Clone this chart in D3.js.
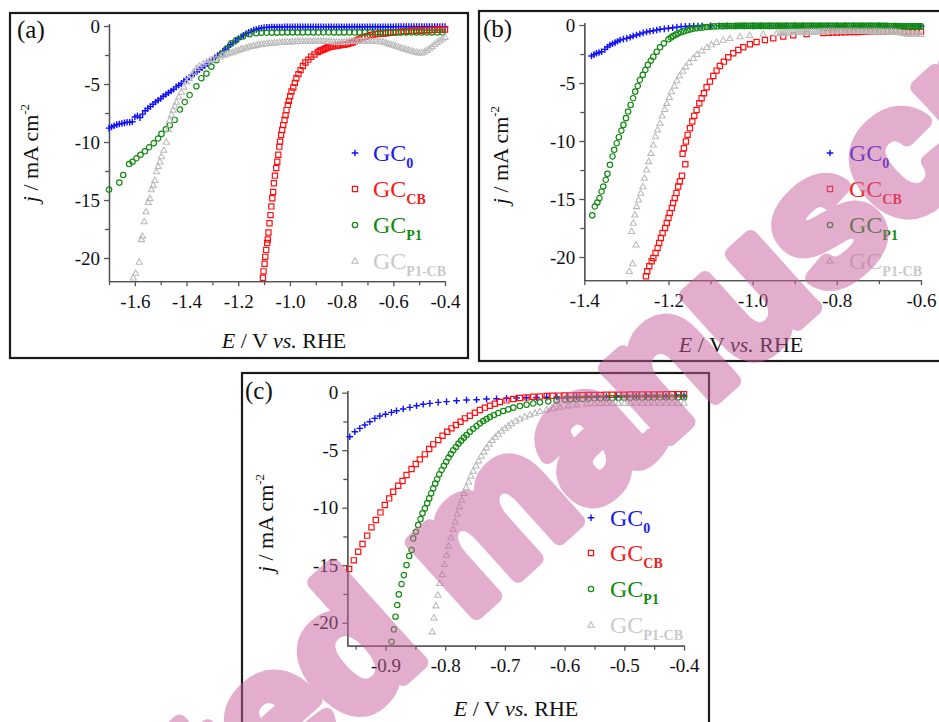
<!DOCTYPE html>
<html>
<head>
<meta charset="utf-8">
<script src="https://cdn.jsdelivr.net/npm/d3@7"></script>
<style>
  body { margin: 0; background: #fff; }
  svg { display: block; }
  svg text { font-family: "Liberation Serif", "DejaVu Serif", serif; }
  svg .wm text { font-family: "Liberation Sans", "DejaVu Sans", sans-serif; }
</style>
</head>
<body>
<script>
// legend names (subscripts) in drawing order
var seriesNames = ["0", "CB", "P1", "P1-CB"];

// ticks
var yMajor = [0, -5, -10, -15, -20];
var yMinor = [-2.5, -7.5, -12.5, -17.5];
var aXMajor = [-1.6, -1.4, -1.2, -1.0, -0.8, -0.6, -0.4];
var aXMinor = [-1.7, -1.5, -1.3, -1.1, -0.9, -0.7, -0.5];
var bXMajor = [-1.4, -1.2, -1.0, -0.8, -0.6];
var bXMinor = [-1.3, -1.1, -0.9, -0.7];
var cXMajor = [-0.9, -0.8, -0.7, -0.6, -0.5, -0.4];
var cXMinor = [-0.95, -0.85, -0.75, -0.65, -0.55, -0.45];

// ---- panel (a): [E / V, j / mA cm-2]
var a_GC0 = [[-1.70,-8.8],[-1.69,-8.7],[-1.68,-8.6],[-1.67,-8.5],[-1.66,-8.45],[-1.65,-8.4],[-1.64,-8.35],[-1.63,-8.3],[-1.62,-8.3],[-1.61,-8.25],
  [-1.60,-7.85],[-1.59,-7.75],[-1.58,-7.9],[-1.57,-7.6],[-1.56,-7.3],[-1.55,-7.1],[-1.54,-6.95],[-1.53,-6.75],[-1.52,-6.55],[-1.51,-6.4],
  [-1.50,-6.25],[-1.49,-6.05],[-1.48,-5.9],[-1.47,-5.75],[-1.46,-5.6],[-1.45,-5.45],[-1.44,-5.25],[-1.43,-5.1],[-1.42,-4.95],[-1.41,-4.75],
  [-1.40,-4.6],[-1.39,-4.45],[-1.38,-4.25],[-1.37,-4.1],[-1.36,-3.95],[-1.35,-3.75],[-1.34,-3.6],[-1.33,-3.4],[-1.32,-3.25],[-1.31,-3.1],
  [-1.30,-2.9],[-1.29,-2.75],[-1.28,-2.55],[-1.27,-2.4],[-1.26,-2.2],[-1.25,-2.0],[-1.24,-1.8],[-1.23,-1.6],[-1.22,-1.45],[-1.21,-1.3],
  [-1.20,-1.1],[-1.19,-0.95],[-1.18,-0.8],[-1.17,-0.65],[-1.16,-0.55],[-1.15,-0.45],[-1.14,-0.35],[-1.13,-0.3],[-1.12,-0.22],[-1.11,-0.18],
  [-1.10,-0.14],[-1.09,-0.12],[-1.08,-0.1],[-1.07,-0.08],[-1.06,-0.08],[-1.05,-0.08],[-1.04,-0.08],[-1.03,-0.08],[-1.02,-0.07],[-1.01,-0.07],
  [-1.00,-0.07],[-0.99,-0.07],[-0.98,-0.07],[-0.97,-0.07],[-0.96,-0.07],[-0.95,-0.07],[-0.94,-0.07],[-0.93,-0.07],[-0.92,-0.07],[-0.91,-0.07],
  [-0.90,-0.07],[-0.89,-0.07],[-0.88,-0.07],[-0.87,-0.06],[-0.86,-0.06],[-0.85,-0.06],[-0.84,-0.06],[-0.83,-0.06],[-0.82,-0.06],[-0.81,-0.06],
  [-0.80,-0.06],[-0.79,-0.06],[-0.78,-0.06],[-0.77,-0.06],[-0.76,-0.06],[-0.75,-0.06],[-0.74,-0.06],[-0.73,-0.06],[-0.72,-0.06],[-0.71,-0.06],
  [-0.70,-0.06],[-0.69,-0.06],[-0.68,-0.06],[-0.67,-0.06],[-0.66,-0.06],[-0.65,-0.06],[-0.64,-0.06],[-0.63,-0.06],[-0.62,-0.06],[-0.61,-0.06],
  [-0.60,-0.06],[-0.59,-0.05],[-0.58,-0.05],[-0.57,-0.05],[-0.56,-0.05],[-0.55,-0.05],[-0.54,-0.05],[-0.53,-0.05],[-0.52,-0.05],[-0.51,-0.05],
  [-0.50,-0.05],[-0.49,-0.05],[-0.48,-0.05],[-0.47,-0.05],[-0.46,-0.05],[-0.45,-0.05],[-0.44,-0.05],[-0.43,-0.05],[-0.42,-0.05],[-0.41,-0.05],[-0.40,-0.05]];

var a_GCCB = [[-1.1045,-21.7],[-1.102,-21.15],[-1.098,-20.5],[-1.0955,-19.9],[-1.092,-19.3],[-1.088,-18.7],[-1.0855,-18.4],[-1.083,-17.8],
  [-1.079,-17.0],[-1.075,-16.3],[-1.072,-15.55],[-1.068,-14.85],[-1.065,-14.3],[-1.062,-13.55],[-1.058,-12.9],[-1.053,-12.25],[-1.049,-11.7],
  [-1.045,-11.1],[-1.041,-10.4],[-1.038,-9.97],[-1.034,-9.4],[-1.03,-8.97],[-1.026,-8.54],[-1.021,-8.1],[-1.017,-7.7],[-1.013,-7.25],
  [-1.008,-6.8],[-1.004,-6.45],[-0.999,-6.05],[-0.994,-5.65],[-0.987,-5.3],[-0.981,-4.9],[-0.975,-4.5],[-0.967,-4.15],[-0.959,-3.8],
  [-0.95,-3.45],[-0.94,-3.15],[-0.929,-2.9],[-0.918,-2.65],[-0.905,-2.45],[-0.892,-2.25],[-0.885,-2.15],[-0.88,-2.1],[-0.873,-2.05],
  [-0.866,-1.98],[-0.86,-1.92],[-0.854,-1.85],[-0.847,-1.81],[-0.84,-1.78],[-0.834,-1.75],[-0.827,-1.72],[-0.82,-1.7],[-0.814,-1.68],
  [-0.808,-1.65],[-0.80,-1.63],[-0.79,-1.61],[-0.783,-1.58],[-0.775,-1.53],[-0.765,-1.47],[-0.757,-1.4],[-0.75,-1.32],[-0.74,-1.22],
  [-0.731,-1.1],[-0.72,-1.0],[-0.71,-0.93],[-0.70,-0.87],[-0.69,-0.8],[-0.68,-0.75],[-0.67,-0.71],[-0.66,-0.68],[-0.65,-0.66],[-0.64,-0.64],
  [-0.63,-0.62],[-0.62,-0.6],[-0.61,-0.57],[-0.60,-0.55],[-0.59,-0.53],[-0.58,-0.51],[-0.57,-0.49],[-0.56,-0.47],[-0.55,-0.45],[-0.54,-0.43],
  [-0.53,-0.42],[-0.52,-0.41],[-0.51,-0.4],[-0.50,-0.39],[-0.49,-0.38],[-0.48,-0.37],[-0.47,-0.36],[-0.46,-0.35],[-0.45,-0.34],[-0.44,-0.33],
  [-0.43,-0.32],[-0.42,-0.32],[-0.41,-0.31],[-0.40,-0.31]];

var a_GCP1 = [[-1.70,-14.1],[-1.66,-13.5],[-1.645,-12.85],[-1.622,-11.9],[-1.609,-11.7],[-1.594,-11.4],[-1.578,-11.1],[-1.561,-10.8],
  [-1.545,-10.45],[-1.527,-10.1],[-1.51,-9.7],[-1.497,-9.3],[-1.48,-8.9],[-1.465,-8.55],[-1.446,-8.1],[-1.426,-7.2],[-1.407,-6.55],
  [-1.388,-5.95],[-1.362,-5.2],[-1.343,-4.5],[-1.323,-4.1],[-1.304,-3.5],[-1.285,-2.95],[-1.265,-2.4],[-1.246,-1.95],[-1.227,-1.5],
  [-1.207,-1.2],[-1.182,-0.9],[-1.156,-0.7],[-1.13,-0.62],[-1.11,-0.59],[-1.09,-0.58],[-1.07,-0.57],[-1.05,-0.57],[-1.03,-0.56],[-1.01,-0.56],
  [-0.99,-0.56],[-0.97,-0.56],[-0.95,-0.55],[-0.93,-0.55],[-0.91,-0.55],[-0.89,-0.55],[-0.87,-0.55],[-0.85,-0.55],[-0.83,-0.55],[-0.81,-0.55],
  [-0.79,-0.55],[-0.77,-0.55],[-0.75,-0.55],[-0.73,-0.55],[-0.71,-0.55],[-0.69,-0.55],[-0.67,-0.55],[-0.65,-0.55],[-0.63,-0.55],[-0.61,-0.55],
  [-0.59,-0.55],[-0.57,-0.55],[-0.55,-0.55],[-0.53,-0.55],[-0.51,-0.55],[-0.49,-0.55],[-0.47,-0.55],[-0.45,-0.55],[-0.43,-0.55],[-0.41,-0.55]];

var a_GCP1CB = [[-1.606,-21.7],[-1.597,-21.3],[-1.583,-20.35],[-1.574,-18.4],[-1.571,-18.1],[-1.564,-16.85],[-1.557,-16.0],[-1.548,-15.2],
  [-1.542,-14.85],[-1.536,-14.1],[-1.529,-13.7],[-1.523,-13.3],[-1.516,-12.55],[-1.51,-12.1],[-1.503,-11.7],[-1.497,-11.25],[-1.488,-10.7],
  [-1.478,-10.0],[-1.471,-8.9],[-1.465,-8.1],[-1.458,-7.65],[-1.452,-7.25],[-1.445,-6.9],[-1.439,-6.55],[-1.43,-6.1],[-1.42,-5.7],[-1.41,-5.25],
  [-1.40,-4.8],[-1.39,-4.5],[-1.381,-4.25],[-1.372,-3.95],[-1.362,-3.65],[-1.35,-3.45],[-1.336,-3.25],[-1.323,-3.1],[-1.31,-2.95],[-1.30,-2.88],
  [-1.285,-2.8],[-1.27,-2.65],[-1.26,-2.5],[-1.25,-2.45],[-1.24,-2.38],[-1.23,-2.3],[-1.22,-2.25],[-1.21,-2.15],[-1.20,-2.08],[-1.19,-2.0],
  [-1.182,-1.95],[-1.17,-1.88],[-1.16,-1.8],[-1.15,-1.75],[-1.14,-1.7],[-1.13,-1.65],[-1.12,-1.6],[-1.11,-1.57],[-1.10,-1.54],[-1.09,-1.51],
  [-1.08,-1.48],[-1.07,-1.46],[-1.06,-1.44],[-1.05,-1.42],[-1.04,-1.4],[-1.03,-1.38],[-1.02,-1.37],[-1.01,-1.36],[-1.00,-1.35],[-0.99,-1.34],
  [-0.98,-1.33],[-0.97,-1.32],[-0.96,-1.31],[-0.95,-1.3],[-0.94,-1.3],[-0.93,-1.3],[-0.92,-1.3],[-0.91,-1.3],[-0.90,-1.3],[-0.89,-1.3],
  [-0.88,-1.3],[-0.87,-1.3],[-0.86,-1.31],[-0.85,-1.32],[-0.84,-1.34],[-0.83,-1.36],[-0.82,-1.38],[-0.81,-1.38],[-0.80,-1.37],[-0.79,-1.35],
  [-0.78,-1.33],[-0.77,-1.31],[-0.76,-1.3],[-0.75,-1.3],[-0.74,-1.29],[-0.73,-1.28],[-0.72,-1.28],[-0.71,-1.28],[-0.70,-1.28],[-0.69,-1.29],
  [-0.68,-1.3],[-0.67,-1.31],[-0.66,-1.32],[-0.65,-1.33],[-0.64,-1.35],[-0.63,-1.42],[-0.62,-1.5],[-0.61,-1.57],[-0.60,-1.64],[-0.59,-1.72],
  [-0.58,-1.8],[-0.57,-1.88],[-0.56,-1.95],[-0.55,-2.01],[-0.54,-2.07],[-0.53,-2.14],[-0.52,-2.2],[-0.51,-2.26],[-0.50,-2.3],[-0.49,-2.3],
  [-0.48,-2.22],[-0.47,-2.1],[-0.46,-1.95],[-0.45,-1.76],[-0.44,-1.58],[-0.43,-1.4],[-0.42,-1.25],[-0.41,-1.1],[-0.40,-0.97]];

// ---- panel (b)
var b_GC0 = [[-1.383,-2.67],[-1.377,-2.55],[-1.371,-2.44],[-1.365,-2.37],[-1.359,-2.3],[-1.351,-2.1],[-1.345,-1.9],[-1.339,-1.72],
  [-1.333,-1.62],[-1.327,-1.52],[-1.321,-1.4],[-1.315,-1.29],[-1.307,-1.22],[-1.299,-1.15],[-1.291,-1.05],[-1.284,-0.95],[-1.276,-0.86],
  [-1.268,-0.77],[-1.26,-0.68],[-1.252,-0.6],[-1.244,-0.54],[-1.236,-0.49],[-1.228,-0.43],[-1.22,-0.37],[-1.21,-0.33],[-1.20,-0.28],
  [-1.19,-0.24],[-1.18,-0.18],[-1.17,-0.14],[-1.16,-0.12],[-1.15,-0.1],[-1.14,-0.09],[-1.13,-0.08],[-1.12,-0.07],[-1.10,-0.07],[-1.08,-0.07],
  [-1.06,-0.07],[-1.04,-0.07],[-1.02,-0.07],[-1.00,-0.07],[-0.98,-0.07],[-0.96,-0.07],[-0.94,-0.07],[-0.92,-0.07],[-0.90,-0.07],[-0.88,-0.07],
  [-0.86,-0.07],[-0.84,-0.07],[-0.82,-0.07],[-0.80,-0.07],[-0.78,-0.07],[-0.76,-0.07],[-0.74,-0.07],[-0.72,-0.07],[-0.70,-0.07],[-0.68,-0.08],
  [-0.66,-0.09],[-0.64,-0.1],[-0.62,-0.11],[-0.60,-0.11]];

var b_GCCB = [[-1.2535,-21.66],[-1.2504,-21.23],[-1.2456,-20.8],[-1.24,-20.37],[-1.236,-20.09],[-1.2306,-19.66],[-1.2258,-19.22],
  [-1.222,-18.79],[-1.218,-18.36],[-1.214,-17.93],[-1.208,-17.5],[-1.204,-17.07],[-1.2,-16.64],[-1.197,-16.21],[-1.192,-15.78],
  [-1.189,-15.35],[-1.185,-14.92],[-1.181,-14.49],[-1.177,-13.92],[-1.173,-13.49],[-1.168,-13.0],[-1.16,-12.0],[-1.1664,-11.1],
  [-1.1633,-10.62],[-1.1585,-10.04],[-1.1545,-9.47],[-1.149,-8.9],[-1.1435,-8.32],[-1.1387,-7.83],[-1.1332,-7.32],[-1.1268,-6.74],
  [-1.1213,-6.31],[-1.1157,-5.88],[-1.1094,-5.37],[-1.1015,-4.88],[-1.0936,-4.39],[-1.0857,-3.93],[-1.0778,-3.53],[-1.0683,-3.16],
  [-1.058,-2.78],[-1.0461,-2.44],[-1.0342,-2.15],[-1.0223,-1.92],[-1.0065,-1.66],[-0.9907,-1.46],[-0.9709,-1.29],[-0.951,-1.15],
  [-0.9273,-1.0],[-0.9036,-0.89],[-0.8719,-0.77],[-0.8323,-0.69],[-0.82,-0.66],[-0.81,-0.65],[-0.80,-0.64],[-0.79,-0.63],[-0.78,-0.62],
  [-0.77,-0.61],[-0.76,-0.6],[-0.75,-0.6],[-0.74,-0.59],[-0.73,-0.58],[-0.72,-0.58],[-0.71,-0.57],[-0.70,-0.57],[-0.69,-0.56],[-0.68,-0.56],
  [-0.67,-0.56],[-0.66,-0.56],[-0.65,-0.56],[-0.64,-0.56],[-0.63,-0.55],[-0.62,-0.55],[-0.61,-0.55],[-0.60,-0.55]];

var b_GCP1 = [[-1.381,-16.41],[-1.375,-15.64],[-1.369,-15.3],[-1.364,-14.92],[-1.359,-14.35],[-1.355,-13.92],[-1.349,-13.34],
  [-1.345,-12.83],[-1.339,-12.05],[-1.333,-11.33],[-1.329,-10.76],[-1.323,-10.19],[-1.318,-9.67],[-1.312,-9.1],[-1.307,-8.61],
  [-1.301,-8.03],[-1.296,-7.46],[-1.29,-6.89],[-1.284,-6.31],[-1.279,-5.74],[-1.273,-5.25],[-1.268,-4.73],[-1.261,-4.3],[-1.255,-3.87],
  [-1.249,-3.44],[-1.242,-3.07],[-1.236,-2.73],[-1.228,-2.3],[-1.22,-1.92],[-1.211,-1.58],[-1.2,-1.23],[-1.194,-1.08],[-1.189,-0.95],
  [-1.183,-0.83],[-1.177,-0.72],[-1.17,-0.62],[-1.163,-0.53],[-1.155,-0.45],[-1.148,-0.38],[-1.141,-0.32],[-1.133,-0.27],[-1.125,-0.23],
  [-1.117,-0.2],[-1.109,-0.17],[-1.10,-0.14],[-1.092,-0.12],[-1.084,-0.11],[-1.075,-0.1],[-1.07,-0.09],[-1.065,-0.09],[-1.06,-0.08],
  [-1.055,-0.08],[-1.05,-0.08],[-1.045,-0.08],[-1.04,-0.08],[-1.035,-0.07],[-1.03,-0.07],[-1.025,-0.07],[-1.02,-0.07],[-1.015,-0.07],
  [-1.01,-0.07],[-1.005,-0.07],[-1.0,-0.07],[-0.995,-0.07],[-0.99,-0.07],[-0.985,-0.07],[-0.98,-0.07],[-0.975,-0.07],[-0.97,-0.07],
  [-0.965,-0.07],[-0.96,-0.07],[-0.955,-0.07],[-0.95,-0.07],[-0.945,-0.07],[-0.94,-0.07],[-0.935,-0.07],[-0.93,-0.07],[-0.925,-0.07],
  [-0.92,-0.07],[-0.915,-0.07],[-0.91,-0.07],[-0.905,-0.07],[-0.9,-0.07],[-0.895,-0.07],[-0.89,-0.07],[-0.885,-0.07],[-0.88,-0.07],
  [-0.875,-0.07],[-0.87,-0.07],[-0.865,-0.07],[-0.86,-0.07],[-0.855,-0.07],[-0.85,-0.07],[-0.845,-0.07],[-0.84,-0.07],[-0.835,-0.07],
  [-0.83,-0.07],[-0.825,-0.07],[-0.82,-0.07],[-0.815,-0.07],[-0.81,-0.07],[-0.805,-0.07],[-0.8,-0.07],[-0.795,-0.07],[-0.79,-0.07],
  [-0.785,-0.07],[-0.78,-0.07],[-0.775,-0.07],[-0.77,-0.07],[-0.765,-0.07],[-0.76,-0.07],[-0.755,-0.07],[-0.75,-0.07],[-0.745,-0.07],
  [-0.74,-0.07],[-0.735,-0.07],[-0.73,-0.07],[-0.725,-0.07],[-0.72,-0.07],[-0.715,-0.07],[-0.71,-0.07],[-0.705,-0.07],[-0.7,-0.07],
  [-0.695,-0.07],[-0.69,-0.07],[-0.685,-0.075],[-0.68,-0.08],[-0.675,-0.08],[-0.67,-0.08],[-0.665,-0.085],[-0.66,-0.09],[-0.655,-0.095],
  [-0.65,-0.1],[-0.645,-0.105],[-0.64,-0.11],[-0.635,-0.115],[-0.63,-0.12],[-0.625,-0.12],[-0.62,-0.12],[-0.615,-0.12],[-0.61,-0.12],
  [-0.605,-0.12],[-0.6,-0.12]];

var b_GCP1CB = [[-1.293,-21.23],[-1.285,-20.57],[-1.277,-18.94],[-1.2876,-17.79],[-1.2836,-17.07],[-1.2797,-16.36],[-1.2757,-15.64],
  [-1.271,-15.06],[-1.266,-14.49],[-1.261,-13.92],[-1.257,-13.2],[-1.252,-12.48],[-1.247,-11.76],[-1.242,-11.05],[-1.236,-10.33],
  [-1.231,-9.61],[-1.226,-9.04],[-1.22,-8.46],[-1.215,-7.83],[-1.209,-7.26],[-1.204,-6.74],[-1.198,-6.23],[-1.193,-5.74],[-1.186,-5.25],
  [-1.18,-4.79],[-1.174,-4.36],[-1.166,-3.96],[-1.159,-3.59],[-1.151,-3.24],[-1.141,-2.87],[-1.132,-2.53],[-1.121,-2.21],[-1.109,-1.92],
  [-1.098,-1.69],[-1.086,-1.49],[-1.07,-1.29],[-1.054,-1.15],[-1.03,-1.0],[-1.007,-0.89],[-0.975,-0.77],[-0.943,-0.72],[-0.935,-0.69],
  [-0.93,-0.68],[-0.925,-0.67],[-0.92,-0.66],[-0.915,-0.65],[-0.91,-0.64],[-0.905,-0.63],[-0.9,-0.62],[-0.895,-0.615],[-0.89,-0.61],
  [-0.885,-0.605],[-0.88,-0.6],[-0.875,-0.595],[-0.87,-0.59],[-0.865,-0.585],[-0.86,-0.58],[-0.855,-0.575],[-0.85,-0.57],[-0.845,-0.565],
  [-0.84,-0.56],[-0.835,-0.56],[-0.83,-0.56],[-0.825,-0.555],[-0.82,-0.55],[-0.815,-0.55],[-0.81,-0.55],[-0.805,-0.55],[-0.8,-0.55],
  [-0.795,-0.55],[-0.79,-0.55],[-0.785,-0.55],[-0.78,-0.55],[-0.775,-0.55],[-0.77,-0.55],[-0.765,-0.55],[-0.76,-0.55],[-0.755,-0.55],
  [-0.75,-0.55],[-0.745,-0.55],[-0.74,-0.55],[-0.735,-0.55],[-0.73,-0.55],[-0.725,-0.555],[-0.72,-0.56],[-0.715,-0.56],[-0.71,-0.56],
  [-0.705,-0.56],[-0.7,-0.56],[-0.695,-0.565],[-0.69,-0.57],[-0.685,-0.57],[-0.68,-0.57],[-0.675,-0.575],[-0.67,-0.58],[-0.665,-0.59],
  [-0.66,-0.6],[-0.655,-0.62],[-0.65,-0.65],[-0.645,-0.68],[-0.64,-0.72],[-0.635,-0.75],[-0.63,-0.78],[-0.625,-0.79],[-0.62,-0.8],
  [-0.615,-0.8],[-0.61,-0.8],[-0.605,-0.8],[-0.6,-0.8]];

// ---- panel (c)
var c_GC0 = [[-0.9598,-3.83],[-0.9514,-3.39],[-0.943,-3.1],[-0.9346,-2.81],[-0.9263,-2.52],[-0.9179,-2.23],[-0.9095,-2.03],[-0.9,-1.88],
  [-0.89,-1.71],[-0.8816,-1.57],[-0.8704,-1.42],[-0.8592,-1.28],[-0.848,-1.13],[-0.8369,-1.01],[-0.8257,-0.93],[-0.8117,-0.84],
  [-0.7978,-0.78],[-0.781,-0.7],[-0.7642,-0.64],[-0.7475,-0.61],[-0.7307,-0.55],[-0.714,-0.52],[-0.6972,-0.49],[-0.6804,-0.46],
  [-0.664,-0.44],[-0.647,-0.42],[-0.63,-0.4],[-0.613,-0.38],[-0.596,-0.37],[-0.58,-0.36],[-0.563,-0.35],[-0.546,-0.34],[-0.53,-0.33],
  [-0.513,-0.32],[-0.496,-0.31],[-0.48,-0.3],[-0.463,-0.3],[-0.446,-0.29],[-0.43,-0.29],[-0.413,-0.28],[-0.40,-0.28]];

var c_GCCB = [[-0.9609,-15.33],[-0.9531,-14.58],[-0.9458,-13.83],[-0.9385,-13.16],[-0.9307,-12.43],[-0.9235,-11.71],[-0.9162,-11.07],
  [-0.9084,-10.41],[-0.9011,-9.77],[-0.8939,-9.19],[-0.8872,-8.61],[-0.8788,-8.09],[-0.8715,-7.68],[-0.8648,-7.16],[-0.8564,-6.64],
  [-0.8492,-6.2],[-0.8425,-5.8],[-0.8341,-5.36],[-0.8268,-4.9],[-0.8201,-4.49],[-0.8117,-4.12],[-0.8045,-3.74],[-0.7966,-3.39],
  [-0.7894,-3.1],[-0.7821,-2.81],[-0.7743,-2.52],[-0.767,-2.23],[-0.7587,-2.0],[-0.7503,-1.74],[-0.7419,-1.51],[-0.7335,-1.3],
  [-0.7251,-1.13],[-0.7168,-0.96],[-0.7084,-0.81],[-0.6972,-0.67],[-0.686,-0.55],[-0.6749,-0.46],[-0.6637,-0.41],[-0.6525,-0.35],
  [-0.6413,-0.32],[-0.63,-0.29],[-0.62,-0.27],[-0.61,-0.25],[-0.60,-0.24],[-0.59,-0.23],[-0.58,-0.22],[-0.57,-0.21],[-0.56,-0.2],
  [-0.55,-0.19],[-0.54,-0.19],[-0.53,-0.18],[-0.52,-0.18],[-0.51,-0.17],[-0.50,-0.17],[-0.49,-0.16],[-0.48,-0.16],[-0.47,-0.16],
  [-0.46,-0.15],[-0.45,-0.15],[-0.44,-0.15],[-0.43,-0.14],[-0.42,-0.14],[-0.41,-0.14],[-0.40,-0.14]];

var c_GCP1 = [[-0.8899,-21.65],[-0.886,-20.58],[-0.8832,-19.48],[-0.8804,-18.46],[-0.8777,-17.54],[-0.8732,-16.64],[-0.8693,-15.86],
  [-0.8648,-14.99],[-0.8603,-14.2],[-0.8564,-13.68],[-0.8536,-12.67],[-0.8492,-12.09],[-0.8453,-11.51],[-0.8413,-10.99],[-0.838,-10.49],
  [-0.8341,-10.06],[-0.8302,-9.62],[-0.8268,-9.19],[-0.8235,-8.75],[-0.8201,-8.32],[-0.8168,-7.91],[-0.8134,-7.51],[-0.8101,-7.1],
  [-0.8061,-6.72],[-0.8022,-6.35],[-0.7983,-6.0],[-0.7944,-5.65],[-0.7905,-5.33],[-0.7866,-5.01],[-0.7821,-4.72],[-0.7777,-4.43],
  [-0.7732,-4.17],[-0.7687,-3.91],[-0.7642,-3.68],[-0.7587,-3.39],[-0.7531,-3.13],[-0.7475,-2.9],[-0.7419,-2.67],[-0.7363,-2.46],
  [-0.7307,-2.29],[-0.7251,-2.12],[-0.7184,-1.94],[-0.7112,-1.77],[-0.7028,-1.59],[-0.6944,-1.45],[-0.686,-1.3],[-0.6749,-1.16],
  [-0.6637,-1.04],[-0.6525,-0.93],[-0.6413,-0.84],[-0.6274,-0.75],[-0.6134,-0.67],[-0.5994,-0.61],[-0.59,-0.58],[-0.58,-0.56],
  [-0.57,-0.54],[-0.56,-0.52],[-0.55,-0.5],[-0.54,-0.49],[-0.53,-0.48],[-0.52,-0.47],[-0.51,-0.46],[-0.50,-0.45],[-0.49,-0.45],
  [-0.48,-0.44],[-0.47,-0.44],[-0.46,-0.43],[-0.45,-0.43],[-0.44,-0.42],[-0.43,-0.42],[-0.42,-0.42],[-0.41,-0.41],[-0.40,-0.41]];

var c_GCP1CB = [[-0.8218,-20.78],[-0.819,-19.57],[-0.8156,-18.52],[-0.8123,-17.59],[-0.8089,-16.58],[-0.805,-15.8],[-0.8011,-14.93],
  [-0.7978,-14.12],[-0.7944,-13.33],[-0.7905,-12.61],[-0.7866,-11.88],[-0.7832,-11.22],[-0.7799,-10.55],[-0.7765,-9.91],[-0.7726,-9.33],
  [-0.7687,-8.75],[-0.7648,-8.23],[-0.7609,-7.74],[-0.757,-7.25],[-0.7531,-6.81],[-0.7486,-6.35],[-0.7441,-5.91],[-0.7397,-5.51],
  [-0.7352,-5.13],[-0.7307,-4.78],[-0.7263,-4.46],[-0.7212,-4.14],[-0.7162,-3.86],[-0.7112,-3.59],[-0.7056,-3.33],[-0.70,-3.1],
  [-0.6944,-2.87],[-0.6888,-2.67],[-0.6821,-2.46],[-0.6749,-2.26],[-0.6665,-2.09],[-0.6581,-1.91],[-0.6497,-1.77],[-0.6413,-1.62],
  [-0.6302,-1.48],[-0.619,-1.36],[-0.6078,-1.25],[-0.5939,-1.13],[-0.5799,-1.04],[-0.563,-0.96],[-0.55,-0.94],[-0.54,-0.93],[-0.53,-0.92],
  [-0.52,-0.92],[-0.51,-0.91],[-0.50,-0.91],[-0.49,-0.91],[-0.48,-0.9],[-0.47,-0.9],[-0.46,-0.9],[-0.45,-0.9],[-0.44,-0.9],[-0.43,-0.9],
  [-0.42,-0.9],[-0.41,-0.9],[-0.40,-0.9]];

var panels = [
  { label: "(a)", frame: [10, 13, 458, 345], x: [-1.7, -0.4], xr: [109, 445], yr: [281.2, 23.7],
    xMajor: aXMajor, xMinor: aXMinor, xTitle: [284, 348], yTitle: [38, 153], tag: [17, 38],
    legend: [355, 373, [153, 189, 225, 261]], data: [a_GC0, a_GCCB, a_GCP1, a_GCP1CB] },
  { label: "(b)", frame: [479, 11, 470, 350], x: [-1.4, -0.6], xr: [584.3, 921], yr: [280.2, 22.7],
    xMajor: bXMajor, xMinor: bXMinor, xTitle: [741, 352], yTitle: [508, 155], tag: [483, 37],
    legend: [830, 849, [153, 189, 225, 261]], data: [b_GC0, b_GCCB, b_GCP1, b_GCP1CB] },
  { label: "(c)", frame: [242, 373, 467, 360], x: [-0.964, -0.4], xr: [347.3, 684], yr: [645.7, 390.4],
    xMajor: cXMajor, xMinor: cXMinor, xTitle: [516, 716], yTitle: [273, 523], tag: [245, 399],
    legend: [591, 610, [517.7, 553, 589, 625]], data: [c_GC0, c_GCCB, c_GCP1, c_GCP1CB] }
];

var colors = ["#1010ff", "#ff1010", "#108a10", "#bababa"];
var textColors = ["#1c1ce8", "#f41c1c", "#0f8a0f", "#c9c9c9"];
var serif = "Liberation Serif, DejaVu Serif, serif";

var svg = d3.select("body").append("svg").attr("width", 939).attr("height", 722);

// marker shapes
function marker(kind, x, y) {
  if (kind === 0) return "M" + (x - 3.3) + "," + y + "h6.6M" + x + "," + (y - 3.3) + "v6.6";
  if (kind === 1) return "M" + (x - 2.6) + "," + (y - 2.6) + "h5.2v5.2h-5.2Z";
  if (kind === 2) return "M" + (x + 2.7) + "," + y + "A2.7,2.7 0 1,1 " + (x - 2.7) + "," + y + "A2.7,2.7 0 1,1 " + (x + 2.7) + "," + y + "Z";
  return "M" + x + "," + (y - 3.2) + "L" + (x + 3.1) + "," + (y + 2.2) + "L" + (x - 3.1) + "," + (y + 2.2) + "Z";
}
var strokeW = [1.4, 1.2, 1.2, 1.05];

panels.forEach(function (p) {
  var g = svg.append("g");
  var x = d3.scaleLinear().domain(p.x).range(p.xr);
  var y = d3.scaleLinear().domain([-22, 0.2]).range(p.yr);

  g.append("rect")
    .attr("x", p.frame[0]).attr("y", p.frame[1])
    .attr("width", p.frame[2]).attr("height", p.frame[3])
    .attr("fill", "none").attr("stroke", "#1a1a1a").attr("stroke-width", 2.2);

  // axes
  function styleAxis(sel) {
    sel.attr("font-family", null).attr("font-size", null);
    sel.selectAll("path, line").attr("stroke", "#555").attr("stroke-width", 1.3);
    sel.selectAll("text").attr("fill", "#111").style("font-family", serif).style("font-size", "19px");
  }
  var yb = p.yr[0];
  g.append("g").attr("transform", "translate(0," + yb + ")")
    .call(d3.axisBottom(x).tickValues(p.xMinor).tickSize(4).tickSizeOuter(0).tickFormat(""))
    .call(styleAxis);
  g.append("g").attr("transform", "translate(0," + yb + ")")
    .call(d3.axisBottom(x).tickValues(p.xMajor).tickSize(5).tickSizeOuter(0).tickPadding(8)
      .tickFormat(function (d) { return d.toFixed(1); }))
    .call(styleAxis);
  g.append("g").attr("transform", "translate(" + p.xr[0] + ",0)")
    .call(d3.axisLeft(y).tickValues(yMinor).tickSize(4).tickSizeOuter(0).tickFormat(""))
    .call(styleAxis);
  g.append("g").attr("transform", "translate(" + p.xr[0] + ",0)")
    .call(d3.axisLeft(y).tickValues(yMajor).tickSize(5).tickSizeOuter(0).tickPadding(4)
      .tickFormat(function (d) { return String(d); }))
    .call(styleAxis);

  // series
  p.data.forEach(function (s, i) {
    g.append("g").selectAll("path").data(s).join("path")
      .attr("d", function (d) { return marker(i, x(d[0]), y(d[1])); })
      .attr("fill", "none").attr("stroke", colors[i]).attr("stroke-width", strokeW[i]);
  });

  // legend
  seriesNames.forEach(function (n, i) {
    var ry = p.legend[2][i];
    g.append("path").attr("d", marker(i, p.legend[0], ry))
      .attr("fill", "none").attr("stroke", colors[i]).attr("stroke-width", strokeW[i]);
    var t = g.append("text").attr("x", p.legend[1]).attr("y", ry + 8)
      .style("font-family", serif).style("font-size", "24px").attr("fill", textColors[i]);
    t.append("tspan").text("GC");
    t.append("tspan").attr("dy", 7).style("font-size", "14px").style("font-weight", "bold").text(n);
  });

  // titles
  var xt = g.append("text").attr("x", p.xTitle[0]).attr("y", p.xTitle[1])
    .attr("text-anchor", "middle").style("font-family", serif).style("font-size", "22px").attr("fill", "#111");
  xt.append("tspan").style("font-style", "italic").text("E");
  xt.append("tspan").text(" / V ");
  xt.append("tspan").style("font-style", "italic").text("vs.");
  xt.append("tspan").text(" RHE");

  var yt = g.append("text").attr("transform", "translate(" + p.yTitle[0] + "," + p.yTitle[1] + ") rotate(-90)")
    .attr("text-anchor", "middle").style("font-family", serif).style("font-size", "22px").attr("fill", "#111");
  yt.append("tspan").style("font-style", "italic").text("j");
  yt.append("tspan").text(" / mA cm");
  yt.append("tspan").attr("dy", -9).style("font-size", "13px").text("-2");

  g.append("text").attr("x", p.tag[0]).attr("y", p.tag[1])
    .style("font-family", serif).style("font-size", "25px").attr("fill", "#111").text(p.label);
});

// watermark
var wm = svg.append("g").attr("class", "wm")
  .attr("transform", "translate(467,621) rotate(-42)")
  .attr("fill", "rgb(200,96,156)").attr("stroke", "rgb(200,96,156)").attr("stroke-width", 15)
  .attr("stroke-linejoin", "round").attr("opacity", 0.5)
  .style("font-weight", "bold").style("font-size", "180px");
wm.append("text").attr("text-anchor", "end").text("Accepted\u00a0");
wm.append("text").attr("text-anchor", "start").text("manuscript");
</script>
</body>
</html>
